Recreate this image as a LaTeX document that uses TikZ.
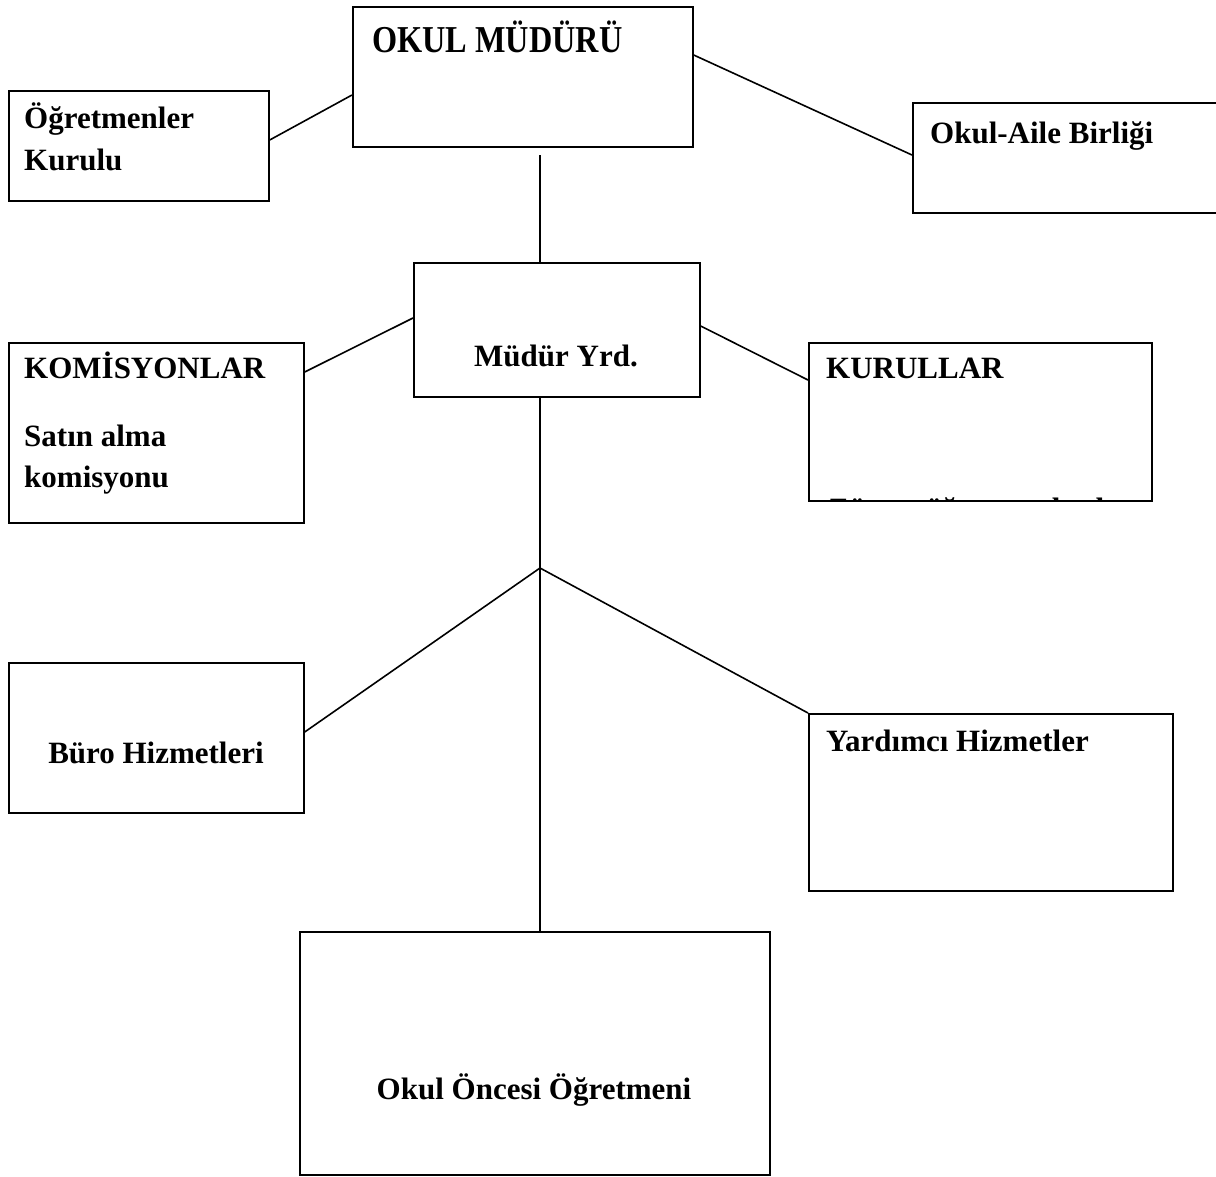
\documentclass[tikz,border=0pt]{standalone}
\usepackage{fontspec}
\setmainfont{Liberation Serif}
\begin{document}
\begin{tikzpicture}[x=1pt,y=-1pt,
  box/.style={draw=black,line width=1.7pt,rectangle,inner sep=0pt,anchor=north west},
  lbl/.style={font=\fontsize{31}{36}\selectfont\bfseries,inner sep=0pt,anchor=base west},
  clbl/.style={font=\fontsize{31}{36}\selectfont\bfseries,inner sep=0pt,anchor=base},
  title/.style={font=\fontsize{38}{44}\selectfont\bfseries,inner sep=0pt,anchor=base west},
  link/.style={draw=black,line width=1.6pt}]
\useasboundingbox (0,0) rectangle (1216,1176);
% boxes
\node[box,minimum width=340pt,minimum height=140pt] (mudur) at (352,6) {};
\node[box,minimum width=260pt,minimum height=110pt] (ogrk) at (8,90) {};
\node[box,minimum width=310pt,minimum height=110pt] (oab) at (912,102) {};
\node[box,minimum width=286pt,minimum height=134pt] (yrd) at (413,262) {};
\node[box,minimum width=295pt,minimum height=180pt] (kom) at (8,342) {};
\node[box,minimum width=343pt,minimum height=158pt] (kur) at (808,342) {};
\node[box,minimum width=295pt,minimum height=150pt] (buro) at (8,662) {};
\node[box,minimum width=364pt,minimum height=177pt] (yard) at (808,713) {};
\node[box,minimum width=470pt,minimum height=243pt] (ooo) at (299,931) {};
% texts
\node[title] (t1) at (372,52) {\scalebox{0.85}[1]{OKUL MÜDÜRÜ}};
\node[lbl] (t2) at (24,128) {Öğretmenler};
\node[lbl] (t3) at (24,170) {Kurulu};
\node[lbl] (t4) at (930,143) {Okul-Aile Birliği};
\node[clbl] (t5) at (556,366) {Müdür Yrd.};
\node[lbl] (t6) at (24,378) {KOMİSYONLAR};
\node[lbl] (t7) at (24,446) {Satın alma};
\node[lbl] (t8) at (24,487) {komisyonu};
\node[lbl] (t9) at (826,378) {KURULLAR};
\node[clbl] (t10) at (156,763) {Büro Hizmetleri};
\node[lbl] (t11) at (826,751) {Yardımcı Hizmetler};
\node[clbl] (t12) at (534,1099) {Okul Öncesi Öğretmeni};
\begin{scope}
\clip (kur.north west) rectangle (kur.south east);
\node[lbl] (t13) at (828,519) {Zümre öğretmenler kurulu};
\end{scope}
% connectors
\coordinate (top1) at (540,155);
\coordinate (br) at (540,568);
\draw[link] ([yshift=-89pt]mudur.north west) -- ([yshift=-50pt]ogrk.north east);
\draw[link] ([yshift=-49pt]mudur.north east) -- ([yshift=-53pt]oab.north west);
\draw[link] (top1) -- (yrd.north -| top1);
\draw[link] ([yshift=-56pt]yrd.north west) -- ([yshift=-30pt]kom.north east);
\draw[link] ([yshift=-64pt]yrd.north east) -- ([yshift=-38pt]kur.north west);
\draw[link] (yrd.south -| top1) -- (ooo.north -| top1);
\draw[link] (br) -- ([yshift=-70pt]buro.north east);
\draw[link] (br) -- (yard.north west);
\end{tikzpicture}
\end{document}
